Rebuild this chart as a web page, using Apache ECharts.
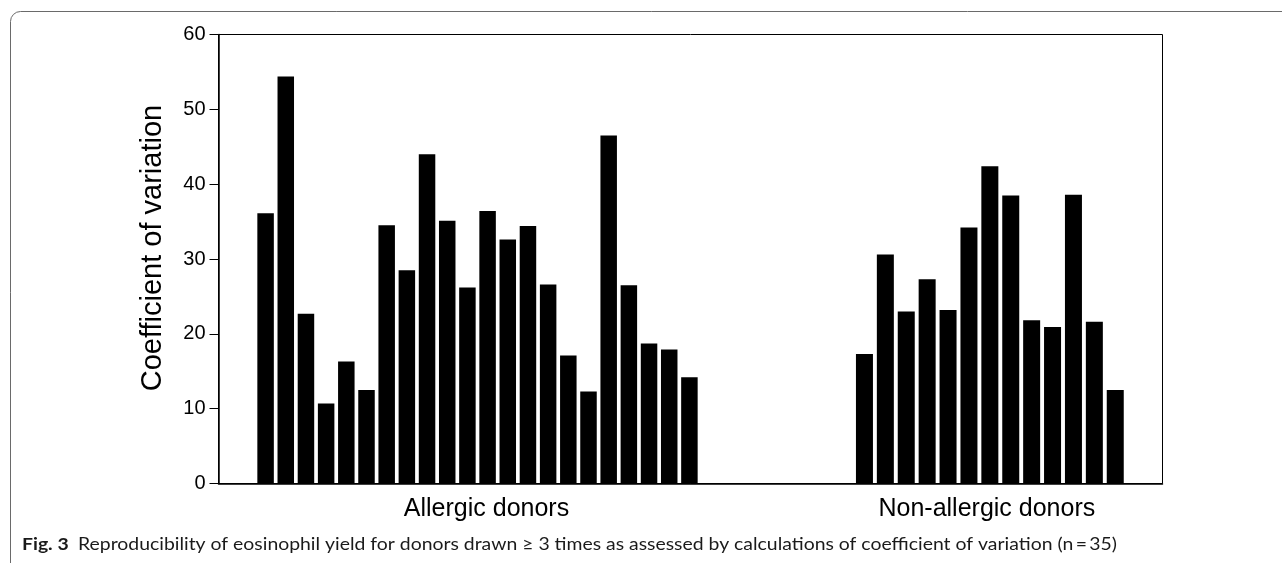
<!DOCTYPE html>
<html>
<head>
<meta charset="utf-8">
<script src="https://cdn.jsdelivr.net/npm/echarts@6/dist/echarts.min.js"></script>
<style>
html,body{margin:0;padding:0;background:#fff;}
#chart{width:1282px;height:563px;}
</style>
</head>
<body>
<div id="chart"></div>
<script>
// ---- data ----
const groupNames = ['Allergic donors', 'Non-allergic donors'];
const allergicValues = [36.1, 54.4, 22.7, 10.7, 16.3, 12.5, 34.5, 28.5, 44.0, 35.1, 26.2, 36.4, 32.6, 34.4, 26.6, 17.1, 12.3, 46.5, 26.5, 18.7, 17.9, 14.2];
const nonAllergicValues = [17.3, 30.6, 23.0, 27.3, 23.2, 34.2, 42.4, 38.5, 21.8, 20.9, 38.6, 21.6, 12.5];
const allergicDonors = allergicValues.map((_, i) => 'A' + (i + 1));
const nonAllergicDonors = nonAllergicValues.map((_, i) => 'N' + (i + 1));
const yTicks = { min: 0, max: 60, interval: 10 };
const yAxisTitle = 'Coefficient of variation';
const captionBold = 'Fig. 3';
const captionText = 'Reproducibility of eosinophil yield for donors drawn \u2265 3 times as assessed by calculations of coefficient of variation (n\u2009=\u200935)';

// ---- layout ----
const FONT = '"Liberation Sans", Arial, Helvetica, sans-serif';
const CAP_FONT = 'Lato, "Open Sans", sans-serif';
const plotTop = 34.5, plotBottom = 563 - 483.5;

const ctx = document.createElement('canvas').getContext('2d');
ctx.font = 'bold 17px ' + CAP_FONT;
const wBold = ctx.measureText(captionBold + '  ').width;
ctx.font = '17px ' + CAP_FONT;
const wText = ctx.measureText(captionText).width;
const capScale = 1095 / (wBold + wText);

const chart = echarts.init(document.getElementById('chart'), null, { renderer: 'canvas' });

const hiddenY = (idx) => ({
  type: 'value', gridIndex: idx, min: yTicks.min, max: yTicks.max, interval: yTicks.interval,
  show: false
});

const option = {
  backgroundColor: '#fff',
  animation: false,
  grid: [
    { left: 218.5, right: 119.5, top: plotTop, bottom: plotBottom, show: true, borderColor: '#000', borderWidth: 1, backgroundColor: 'transparent' },
    { left: 255.5, width: 444, top: plotTop, bottom: plotBottom },
    { left: 854, width: 271.7, top: plotTop, bottom: plotBottom }
  ],
  xAxis: [
    { type: 'category', gridIndex: 0, data: [''], axisLine: { lineStyle: { color: '#000', width: 1.5 } }, axisTick: { show: false }, axisLabel: { show: false } },
    { type: 'category', gridIndex: 1, data: allergicDonors, axisLine: { show: false }, axisTick: { show: false }, axisLabel: { show: false },
      name: groupNames[0], nameLocation: 'middle', nameGap: 13,
      nameTextStyle: { fontFamily: FONT, fontSize: 25, color: '#000', padding: [0, 0, 0, 18] } },
    { type: 'category', gridIndex: 2, data: nonAllergicDonors, axisLine: { show: false }, axisTick: { show: false }, axisLabel: { show: false },
      name: groupNames[1], nameLocation: 'middle', nameGap: 13,
      nameTextStyle: { fontFamily: FONT, fontSize: 25, color: '#000', padding: [0, 6, 0, 0] } }
  ],
  yAxis: [
    { type: 'value', gridIndex: 0, min: yTicks.min, max: yTicks.max, interval: yTicks.interval,
      axisLine: { show: true, lineStyle: { color: '#000', width: 1.5 } },
      axisTick: { show: true, inside: false, length: 9, lineStyle: { color: '#000', width: 1 } },
      splitLine: { show: false },
      axisLabel: { margin: 13, fontFamily: FONT, fontSize: 20, color: '#000' },
      name: yAxisTitle, nameLocation: 'middle', nameGap: 51,
      nameTextStyle: { fontFamily: FONT, fontSize: 29, color: '#000', padding: [0, 0, 0, 22] } },
    hiddenY(1),
    hiddenY(2)
  ],
  series: [
    { type: 'bar', xAxisIndex: 1, yAxisIndex: 1, data: allergicValues, barWidth: 16.5,
      itemStyle: { color: '#000' }, emphasis: { disabled: true } },
    { type: 'bar', xAxisIndex: 2, yAxisIndex: 2, data: nonAllergicValues, barWidth: 17,
      itemStyle: { color: '#000' }, emphasis: { disabled: true } }
  ],
  graphic: [
    { type: 'rect', silent: true, shape: { x: 10.5, y: 11.5, width: 1400, height: 620, r: 10 },
      style: { fill: 'none', stroke: '#6a6a6a', lineWidth: 1 } },
    { type: 'group', x: 22, y: 545, scaleX: capScale, children: [
      { type: 'text', x: 0, y: 0, style: { text: captionBold, font: 'bold 17px ' + CAP_FONT, fill: '#1a1a1a', verticalAlign: 'middle' } },
      { type: 'text', x: wBold, y: 0, style: { text: captionText, font: '17px ' + CAP_FONT, fill: '#1a1a1a', verticalAlign: 'middle' } }
    ] }
  ]
};
chart.setOption(option);
</script>
</body>
</html>
